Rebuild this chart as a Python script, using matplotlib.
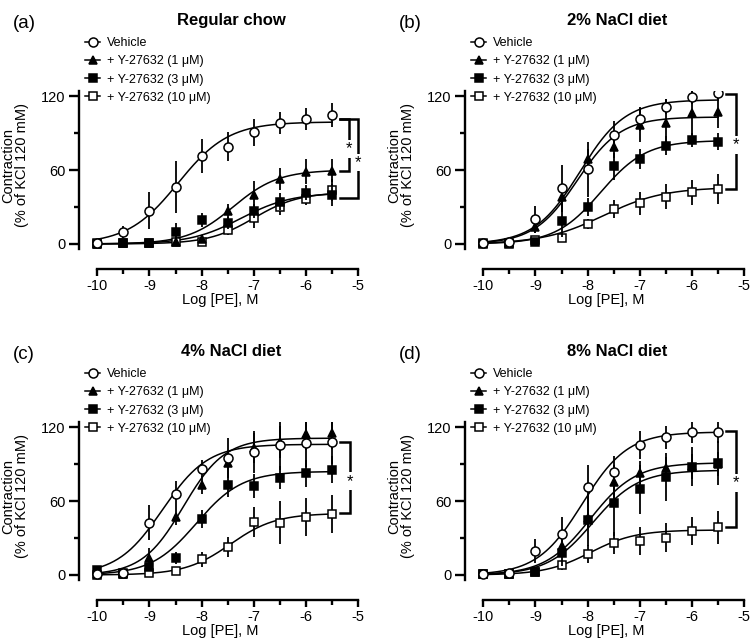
import numpy as np
import matplotlib.pyplot as plt
from matplotlib.lines import Line2D

plt.rcParams['font.family'] = ['Liberation Sans', 'DejaVu Sans']

# x values (log molar PE)
log_pe = [-10, -9.5, -9, -8.5, -8, -7.5, -7, -6.5, -6, -5.5]
series_labels = ['Vehicle', '+ Y-27632 (1 μM)', '+ Y-27632 (3 μM)', '+ Y-27632 (10 μM)']
panel_tags = ['(a)', '(b)', '(c)', '(d)']
panel_titles = ['Regular chow', '2% NaCl diet', '4% NaCl diet', '8% NaCl diet']

# (a) regular chow - means and SEM
veh_a = [0.5, 9.5, 26.8, 46, 71.4, 79, 90.6, 97.9, 101.4, 104.6]
veh_a_err = [2, 5, 15, 21, 14, 11.5, 11, 9, 9, 9.5]
y1_a = [0, 0.5, 1, 2, 4, 26.8, 39.7, 52.5, 58.7, 59.5]
y1_a_err = [1, 1, 1, 2, 3, 6, 11.5, 9, 10, 9.5]
y3_a = [0, 0.5, 1, 10, 19.5, 17, 26.8, 34.3, 41.6, 39.7]
y3_a_err = [1, 1, 1.5, 7, 6, 5, 6, 7, 6, 9]
y10_a = [0.5, 0.5, 1, 1.5, 2, 11, 20.8, 30.3, 36.5, 43.8]
y10_a_err = [1, 1, 1, 1.5, 2, 4, 8, 7, 5, 9]

# (b) 2% NaCl
veh_b = [0.5, 1.8, 20, 45.1, 60.5, 88.4, 101.4, 111.4, 119, 122.2]
veh_b_err = [1, 1.5, 11, 19, 22, 11, 10, 6, 5.5, 4.5]
y1_b = [0.5, 1, 14, 38, 69, 79, 96.5, 98.4, 106, 107]
y1_b_err = [1, 1, 5, 10, 8, 9.5, 14, 19, 19, 13]
y3_b = [0, 0.5, 2, 19, 30, 63, 69, 79.7, 84.3, 83]
y3_b_err = [1, 1, 1.5, 13.5, 7.5, 11, 8, 7.5, 6, 7]
y10_b = [0.5, 0, 3, 5.2, 16, 28.4, 33, 38.5, 41.8, 44.5]
y10_b_err = [1, 1, 2, 3, 4, 7, 9.5, 10, 10, 12]

# (c) 4% NaCl
veh_c = [0.8, 1.9, 42.4, 65.4, 86, 95, 100, 105.4, 107.3, 108.1]
veh_c_err = [2, 2, 14, 11, 7.5, 16, 17, 20, 20, 18]
y1_c = [0.5, 1, 13.5, 47.3, 73, 90.6, 103, 108, 114.4, 114.9]
y1_c_err = [1, 1, 8, 7, 7.5, 8, 12, 13, 13, 13]
y3_c = [4, 0.5, 6.8, 13.5, 45.4, 73, 72.2, 79, 82.6, 85.2]
y3_c_err = [2, 1, 3, 5, 7.5, 10, 9.5, 9.5, 11, 11]
y10_c = [0, 1.9, 1.4, 3.5, 12.7, 22.9, 43.2, 42.4, 47.3, 49.2]
y10_c_err = [1, 1, 1, 2, 6, 8, 12, 17.5, 15.5, 15.5]

# (d) 8% NaCl
veh_d = [0.8, 1.4, 19.5, 33.3, 71.1, 83.8, 105.4, 111.6, 116.2, 116.2]
veh_d_err = [1, 1.5, 9.5, 13.5, 18, 13, 11, 9.5, 9, 9.5]
y1_d = [0.8, 0.8, 3, 23.5, 46, 75.7, 83, 86.5, 88, 90]
y1_d_err = [1, 1, 2, 5.5, 7.5, 13.5, 9.5, 9.5, 10, 10]
y3_d = [0.5, 0.8, 2.5, 18, 44.6, 58, 69.5, 79.2, 87.8, 90.6]
y3_d_err = [1, 1, 2, 11, 21, 26, 20, 19.5, 16, 18]
y10_d = [0.8, 0.8, 2.7, 8.1, 17, 25.7, 27.6, 30.3, 35.7, 38.7]
y10_d_err = [1, 1, 1.5, 4, 7, 9, 11, 11.5, 11.5, 13.5]

# fitted sigmoid parameters (top, logEC50, Hill slope) per series: vehicle, 1, 3, 10 uM
top_a = [99, 60, 41.5, 42];   ec_a = [-8.45, -7.4, -7.25, -7.0];  hill_a = [0.9, 1.0, 0.9, 1.0]
top_b = [117, 103, 84, 46];   ec_b = [-8.15, -8.2, -7.75, -7.7];  hill_b = [1.0, 1.05, 1.0, 0.75]
top_c = [106, 111, 84, 50];   ec_c = [-8.75, -8.35, -8.1, -7.45]; hill_c = [1.0, 1.1, 1.0, 1.0]
top_d = [116, 91, 85, 36.5];  ec_d = [-8.1, -7.95, -7.9, -7.95];  hill_d = [1.0, 1.0, 1.0, 1.0]

# significance brackets: (x of vertical, y top, y bottom)
brackets_a = [(-5.17, 101, 59.5), (-5.0, 101, 37)]
brackets_b = [(-5.15, 122, 44.5)]
brackets_c = [(-5.15, 108, 50)]
brackets_d = [(-5.15, 116.5, 38.7)]

panels = [
    ([veh_a, y1_a, y3_a, y10_a], [veh_a_err, y1_a_err, y3_a_err, y10_a_err], top_a, ec_a, hill_a, brackets_a),
    ([veh_b, y1_b, y3_b, y10_b], [veh_b_err, y1_b_err, y3_b_err, y10_b_err], top_b, ec_b, hill_b, brackets_b),
    ([veh_c, y1_c, y3_c, y10_c], [veh_c_err, y1_c_err, y3_c_err, y10_c_err], top_c, ec_c, hill_c, brackets_c),
    ([veh_d, y1_d, y3_d, y10_d], [veh_d_err, y1_d_err, y3_d_err, y10_d_err], top_d, ec_d, hill_d, brackets_d),
]

markers = ['o', '^', 's', 's']
facecols = ['white', 'black', 'black', 'white']
msizes = [6.5, 6, 5.8, 5.8]
zorders = [6, 5, 4, 3]

W, H = 750, 643
fig = plt.figure(figsize=(W / 100, H / 100), dpi=100)

ax_w, ax_h = 281.9, 157.8
origins = [(79, 91.1), (465, 91.1), (79, 422.1), (465, 422.1)]
xx = np.linspace(-10, -5.5, 300)

for i, (means, errs, tops, ecs, hills, brackets) in enumerate(panels):
    x0, yt = origins[i]
    ax = fig.add_axes([x0 / W, 1 - (yt + ax_h) / H, ax_w / W, ax_h / H])
    for k in range(4):
        ax.errorbar(log_pe, means[k], yerr=errs[k], fmt=markers[k], mfc=facecols[k], mec='black',
                    ms=msizes[k], mew=1.1, ecolor='black', elinewidth=1.3, capsize=0, zorder=zorders[k])
        curve = tops[k] / (1 + 10 ** ((ecs[k] - xx) * hills[k]))
        ax.plot(xx, curve, color='black', lw=1.1, zorder=2)

    for bx, ytop, ybot in brackets:
        ax.plot([-5.35, bx, bx, -5.35], [ytop, ytop, ybot, ybot], color='black', lw=1.8,
                solid_joinstyle='miter', clip_on=False, zorder=7)
        ax.text(bx, (ytop + ybot) / 2 - 3, '*', ha='center', va='center', fontsize=12,
                bbox=dict(fc='white', ec='none', pad=1.0), zorder=8, clip_on=False)

    ax.set_xlim(-10.35, -4.95)
    ax.set_ylim(-4, 124)
    ax.spines['top'].set_visible(False)
    ax.spines['right'].set_visible(False)
    ax.spines['bottom'].set_position(('outward', 14.8))
    ax.spines['bottom'].set_bounds(-10, -5)
    for s in ['left', 'bottom']:
        ax.spines[s].set_linewidth(1.7)
    ax.set_xticks([-10, -9, -8, -7, -6, -5])
    ax.set_xticks([-9.5, -8.5, -7.5, -6.5, -5.5], minor=True)
    ax.set_xticklabels(['-10', '-9', '-8', '-7', '-6', '-5'])
    ax.set_yticks([0, 60, 120])
    ax.set_yticks([30, 90], minor=True)
    ax.tick_params(axis='x', which='major', length=5, width=1.7, labelsize=10.5, pad=2)
    ax.tick_params(axis='x', which='minor', length=3.5, width=1.7)
    ax.tick_params(axis='y', which='major', length=7.5, width=1.7, labelsize=10.5, pad=2)
    ax.tick_params(axis='y', which='minor', length=3.5, width=1.7)
    ax.set_xlabel('Log [PE], M', fontsize=10.5, labelpad=0)
    ax.set_ylabel('Contraction\n(% of KCl 120 mM)', fontsize=10.5, linespacing=1.0)
    ax.yaxis.set_label_coords(-0.178, 0.53)
    ax.patch.set_alpha(0)

    handles = [Line2D([], [], color='black', lw=1.1, marker=markers[k], mfc=facecols[k], mec='black',
                      ms=msizes[k], mew=1.1) for k in range(4)]
    fig.legend(handles, series_labels, loc='upper left',
               bbox_to_anchor=((x0 + 6) / W, 1 - (yt - 54) / H),
               frameon=False, fontsize=9, handlelength=1.2, handletextpad=0.55,
               labelspacing=0.5, borderpad=0, borderaxespad=0)

    fig.text((x0 + 152) / W, 1 - (yt - 71) / H, panel_titles[i], ha='center', va='center',
             fontsize=12, fontweight='bold')
    fig.text((x0 - 66) / W, 1 - (yt - 68) / H, panel_tags[i], ha='left', va='center', fontsize=13.5)

fig.savefig('out.png', dpi=100)
